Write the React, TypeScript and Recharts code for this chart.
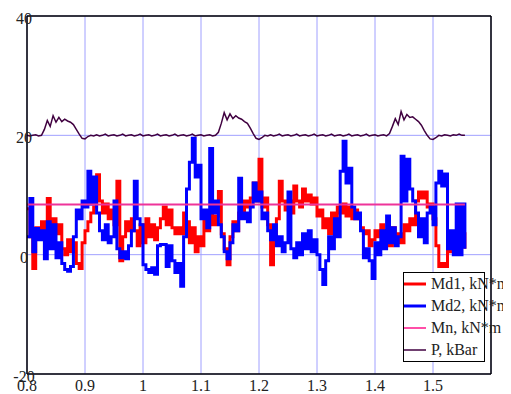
import React from 'react';
import { LineChart, Line, XAxis, YAxis, CartesianGrid, Legend, ReferenceLine } from 'recharts';

// sample grid of the time axis
const X_START = 0.8;
const X_STEP = 0.005;

const xTicks = [0.8, 0.9, 1, 1.1, 1.2, 1.3, 1.4, 1.5];
const yTicks = [-20, 0, 20, 40];

const md1 = [
  7.7, 3, -2.3, 4.5, 3.5, 5.5, 3, 9.4, 5, 6,
  3.5, 5, 1, 0, 2.5, 0.5, 2, -1.5, -2.3, 2,
  4, 5.5, 7, 8, 13.4, 9, 7, 8.5, 6, 7.5,
  5, 12.3, -1, 3, 5.5, 4, 6, 4, 1.5, 5,
  2, 6, 3, 5, 2.5, 4.5, 6, 8, 5, 7.5,
  4.5, 3.5, 4.5, 3.5, 7, 5.5, 2, 4.5, 0.5, 3,
  1.5, 6, 4, 7, 5, 6.5, 10.6, 3.5, 1, -1.7,
  3, 5.5, 4, 7, 6.7, 9, 8, 9.5, 12, 9,
  16, 8, 9.5, 5, -1.7, 3, 6, 12.3, 9, 7.5,
  9, 7, 11.5, 9, 8, 11, 9, 10, 8.5, 9.5,
  6.5, 7.5, 4.5, 6, 3.5, 7, 5, 8, 7, 8.5,
  6.5, 8, 6, 7.5, 6, 4.5, 3.5, 4, 1.5, 2.5,
  4, 3, 5, 3, 4, 1.5, 4.5, 2, 3.5, 2,
  5, 4, 6, 5, 9, 10.5, 9.5, 10.5, 8, 8.5,
  6, 1.5, -2, -1.5, -2, 1, 0.5, 1.5, 1, 2.5,
  3.5, 1,
];

const md2 = [
  3, 9.4, 0.5, 4.4, 2.5, 4, -0.7, 5.5, 1, 5,
  -0.5, 2, -1.5, -2.5, -2.8, -2, 3, 7.5, 6, 9,
  8, 14, 8.5, 13, 7, 4, 2.5, 5, 2, 3,
  9, 1, -0.5, 0.5, -0.7, 1.5, 4, 12.3, 6, 5,
  -1.7, -2.5, -3, -2.2, -3.3, 1.5, 1.7, 1.7, -2, 1.5,
  -1, -3, -1.5, -5.3, 3, 11, 15.5, 19.5, 13, 15,
  6, 7.5, 4.5, 17.8, 7, 9, 5, 3, 0.5, -0.7,
  2, 5, 4, 12.8, 6, 7, 5.5, 8, 12, 9,
  10.5, 6, 7, 4, 2.5, 5, 1.5, 3, 0.5, 2,
  10.5, 1, -0.5, 2, 0, 3.5, 1, 4, 0.5, 2.5,
  0, -2.5, -5, -1, 3, 1, 6, 3, 14, 19,
  12, 14.5, 8, 6, 7, 4, -0.5, 1, -1, -4,
  2, 0, 4, 1, 6.5, 2, 4.5, 1.5, 3, 16.5,
  9, 16, 11, 9, 7, 3, 6, 2, 7, 8,
  5, 12, 14, 11.5, 13.5, 1, 4, 0, 8.5, 0,
  8.5, 1,
];

const mnLevel = 8.4;

const pressure = [
  20, 19.9, 20, 20.1, 19.9, 20, 21, 22.5, 21.5, 23.3,
  22.2, 23, 22.3, 22.7, 22.4, 22.2, 21.8, 21, 20.2, 19.5,
  19.4, 19.8, 20, 19.9, 20.1, 19.9, 20, 20.2, 19.9, 20,
  20.1, 19.9, 20, 20.2, 19.9, 20, 20.1, 19.9, 20, 20.2,
  19.9, 20, 20.1, 19.9, 20, 20.2, 19.9, 20, 20.1, 19.9,
  20, 20.2, 19.9, 20, 20.1, 19.9, 20, 20.2, 19.9, 20,
  20.1, 19.9, 20, 20.1, 19.9, 20, 20.5, 22, 23.8, 22.6,
  23.6, 22.8, 23.3, 22.9, 22.7, 22.3, 22, 21.2, 20.3, 19.5,
  19.3, 19.6, 20, 19.9, 20.1, 19.9, 20, 20.2, 19.9, 20,
  20.1, 19.9, 20, 20.2, 19.9, 20, 20.1, 19.9, 20, 20.2,
  19.9, 20, 20.1, 19.9, 20, 20.2, 19.9, 20, 20.1, 19.9,
  20, 20.2, 19.9, 20, 20.1, 19.9, 20, 20.2, 19.9, 20,
  20.1, 19.9, 20, 20.1, 19.9, 20.3, 21.5, 22.8, 21.8, 24,
  22.6, 23.5, 23, 23.1, 22.7, 22.3, 21.7, 20.8, 20, 19.4,
  19.3, 19.6, 20, 19.9, 20.1, 20, 19.9, 20.1, 20, 20.2,
  20, 20,
];

const seriesNames = ['Md1, kN*m', 'Md2, kN*m', 'Mn, kN*m', 'P, kBar'];

const data = md1.map((v, i) => ({
  x: +(X_START + i * X_STEP).toFixed(4),
  md1: v,
  md2: md2[i],
  mn: mnLevel,
  p: pressure[i],
}));

const FONT = "'Liberation Serif', 'DejaVu Serif', Tinos, 'Times New Roman', serif";

const legendItems = [
  { name: seriesNames[0], color: '#ff0000', width: 3 },
  { name: seriesNames[1], color: '#0000ff', width: 3 },
  { name: seriesNames[2], color: '#ff4fa8', width: 2 },
  { name: seriesNames[3], color: '#400040', width: 1.5 },
];

function BoxLegend() {
  return (
    <div
      style={{
        width: 80,
        height: 88,
        border: '1.5px solid #000',
        background: '#fff',
        position: 'relative',
        fontFamily: FONT,
        fontSize: 16,
        color: '#222',
        overflow: 'visible',
      }}
    >
      {legendItems.map((it, i) => (
        <div
          key={it.name}
          style={{ position: 'absolute', left: 0, top: 1 + i * 22, height: 20, whiteSpace: 'nowrap', display: 'flex', alignItems: 'center' }}
        >
          <svg width={22} height={20} style={{ display: 'block' }}>
            <line x1={0} y1={10} x2={22} y2={10} stroke={it.color} strokeWidth={it.width} />
          </svg>
          <span style={{ marginLeft: 5, lineHeight: '20px' }}>{it.name}</span>
        </div>
      ))}
    </div>
  );
}

function XTick(props: any) {
  const { x, y, payload } = props;
  return (
    <text x={x} y={y + 17} textAnchor="middle" fill="#222" fontSize={16} fontFamily={FONT}>
      {payload.value}
    </text>
  );
}

function YTick(props: any) {
  const { x, y, payload } = props;
  return (
    <text x={x - 3} y={y + 8} textAnchor="middle" fill="#222" fontSize={16} fontFamily={FONT}>
      {payload.value}
    </text>
  );
}

export default function App() {
  return (
    <LineChart width={503} height={386} data={data} margin={{ top: 8, right: 20, left: 0, bottom: 0 }}>
      <CartesianGrid stroke="#a0a0ff" strokeWidth={1} />
      <XAxis
        dataKey="x"
        type="number"
        domain={[0.8, 1.6]}
        ticks={xTicks}
        height={20}
        tickSize={0}
        tickMargin={0}
        tickLine={false}
        axisLine={{ stroke: '#000', strokeWidth: 1.5 }}
        tick={<XTick />}
        interval={0}
      />
      <YAxis
        type="number"
        domain={[-20, 40]}
        ticks={yTicks}
        width={19}
        tickSize={0}
        tickMargin={0}
        tickLine={false}
        axisLine={{ stroke: '#000', strokeWidth: 1.5 }}
        tick={<YTick />}
        interval={0}
      />
      <Line type="stepAfter" dataKey="md1" name={seriesNames[0]} stroke="#ff0000" strokeWidth={3} dot={false} isAnimationActive={false} />
      <Line type="stepAfter" dataKey="md2" name={seriesNames[1]} stroke="#0000ff" strokeWidth={3} dot={false} isAnimationActive={false} />
      <Line dataKey="mn" name={seriesNames[2]} stroke="#ee3399" strokeWidth={2} dot={false} isAnimationActive={false} />
      <Line dataKey="p" name={seriesNames[3]} stroke="#400040" strokeWidth={1.5} dot={false} isAnimationActive={false} />
      <ReferenceLine y={40} stroke="#000" strokeWidth={1.5} />
      <ReferenceLine x={1.6} stroke="#000" strokeWidth={1.5} />
      <Legend
        layout="vertical"
        align="center"
        verticalAlign="middle"
        content={<BoxLegend />}
        wrapperStyle={{ left: 395, top: 264, width: 82, height: 90 }}
      />
    </LineChart>
  );
}
